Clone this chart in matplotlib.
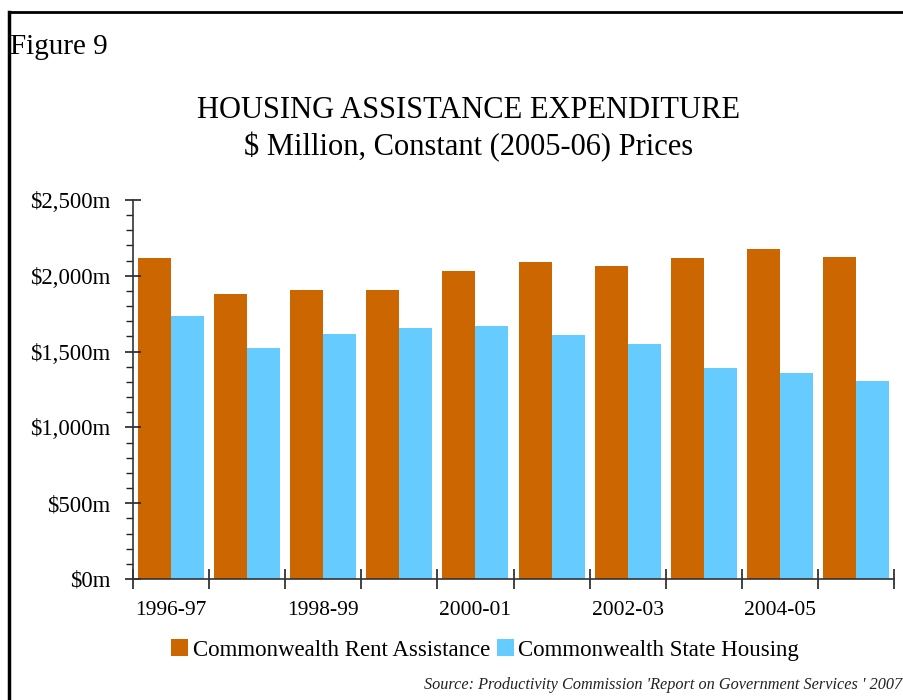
import numpy as np
import matplotlib
matplotlib.use('Agg')
import matplotlib.pyplot as plt
from matplotlib.ticker import MultipleLocator, FuncFormatter, FixedLocator
from matplotlib.lines import Line2D

plt.rcParams['font.family'] = ['Liberation Serif', 'DejaVu Serif']

years = ['1996-97', '1997-98', '1998-99', '1999-00', '2000-01',
         '2001-02', '2002-03', '2003-04', '2004-05', '2005-06']
rent_assist = [2120, 1880, 1906, 1906, 2032, 2091, 2065, 2117, 2177, 2124]
state_housing = [1735, 1524, 1616, 1656, 1669, 1609, 1550, 1392, 1359, 1306]

ORANGE = '#CC6600'
BLUE = '#66CCFF'

fig = plt.figure(figsize=(9.04, 7.0), dpi=100)

# frame lines round the figure (top and left only)
fig.add_artist(Line2D([0.0105, 1.0], [1 - 12/700, 1 - 12/700], transform=fig.transFigure, color='black', lw=2))
fig.add_artist(Line2D([0.0105, 0.0105], [0, 1 - 12/700], transform=fig.transFigure, color='black', lw=2.5))

fig.text(10/904, 1 - 47/700, 'Figure 9', fontsize=21, ha='left', va='center')
fig.text(469/904, 1 - 110/700, 'HOUSING ASSISTANCE EXPENDITURE', fontsize=22, ha='center', va='center')
fig.text(469/904, 1 - 147/700, '$ Million, Constant (2005-06) Prices', fontsize=22, ha='center', va='center')

ax = fig.add_axes([133/904, 121/700, (894 - 133)/904, 379/700])

x = np.arange(len(years))
w = 0.434
ax.bar(x - w/2, rent_assist, width=w, color=ORANGE, label='Commonwealth Rent Assistance')
ax.bar(x + w/2, state_housing, width=w, color=BLUE, label='Commonwealth State Housing')

ax.set_xlim(-0.5, len(years) - 0.5)
ax.set_ylim(0, 2500)

for s in ['top', 'right']:
    ax.spines[s].set_visible(False)
for s in ['left', 'bottom']:
    ax.spines[s].set_color('#333333')
    ax.spines[s].set_linewidth(1.2)

ax.yaxis.set_major_locator(MultipleLocator(500))
ax.yaxis.set_minor_locator(MultipleLocator(100))
ax.yaxis.set_major_formatter(FuncFormatter(lambda v, p: '${:,.0f}m'.format(v)))
ax.tick_params(axis='y', which='major', direction='inout', length=12, width=1.2, labelsize=16.5, pad=10, color='#222222')
ax.tick_params(axis='y', which='minor', direction='out', length=5, width=1, color='#222222')

# boundary ticks on the category axis, labels on every second year
ax.xaxis.set_major_locator(FixedLocator(np.arange(-0.5, len(years), 1.0)))
ax.xaxis.set_major_formatter(FuncFormatter(lambda v, p: ''))
ax.xaxis.set_minor_locator(FixedLocator(x[::2]))
ax.set_xticklabels(years[::2], minor=True)
ax.tick_params(axis='x', which='major', direction='inout', length=14, width=1.2, color='#222222')
ax.tick_params(axis='x', which='minor', length=0, labelsize=15.5, pad=16)

fig.legend(loc='center', bbox_to_anchor=(485/904, 1 - 650/700), ncol=2, frameon=False,
           fontsize=16.5, handlelength=0.75, handleheight=0.75, handletextpad=0.2, columnspacing=0.3)

fig.text(902/904, 1 - 685/700, "Source: Productivity Commission 'Report on Government Services ' 2007",
         fontsize=11.7, style='italic', ha='right', va='center', color='#222222')

fig.savefig('out.png', dpi=100)
